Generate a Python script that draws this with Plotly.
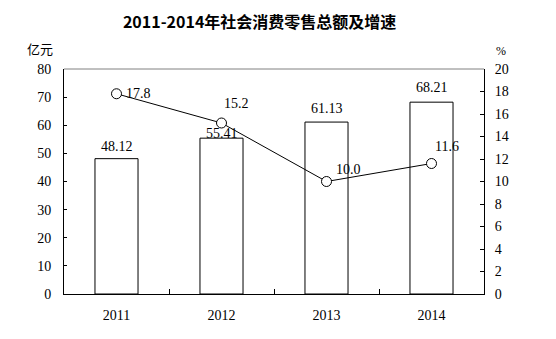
import plotly.graph_objects as go

# Retail sales of consumer goods, 2011-2014
years = ["2011", "2012", "2013", "2014"]
sales = [48.12, 55.41, 61.13, 68.21]          # 亿元
growth = [17.8, 15.2, 10.0, 11.6]             # %

sales_text = ["48.12", "55.41", "61.13", "68.21"]
growth_text = ["17.8", "15.2", "10.0", "11.6"]

num_font = "Liberation Serif"
cjk_font = "Noto Sans CJK SC"

fig = go.Figure()

fig.add_trace(go.Bar(
    x=years, y=sales, width=0.41,
    marker=dict(color="white", line=dict(color="black", width=1)),
    yaxis="y", showlegend=False, hoverinfo="skip",
))

fig.add_trace(go.Scatter(
    x=years, y=growth, yaxis="y2", mode="lines+markers",
    line=dict(color="black", width=1),
    marker=dict(symbol="circle", size=10, color="white",
                line=dict(color="black", width=1)),
    showlegend=False, hoverinfo="skip",
))

# bar value labels (category index used as x position)
bar_shift = [3, -5, 4, 5]
for i, (v, t, s) in enumerate(zip(sales, sales_text, bar_shift)):
    fig.add_annotation(x=i, y=v, xref="x", yref="y", text=t, showarrow=False,
                       yanchor="bottom", yshift=s,
                       font=dict(family=num_font, size=14, color="black"))

# growth rate labels
g_xshift = [7, 0, 7, 1]
g_yshift = [0, 10, 3, 8]
for i, (v, t, dx, dy) in enumerate(zip(growth, growth_text, g_xshift, g_yshift)):
    fig.add_annotation(x=i, y=v, xref="x", yref="y2", text=t, showarrow=False,
                       xanchor="left", yanchor="bottom" if dy > 2 else "middle",
                       xshift=dx, yshift=dy,
                       font=dict(family=num_font, size=14, color="black"))

# axis unit labels
fig.add_annotation(x=-0.058, y=1.04, xref="paper", yref="paper", text="亿元",
                   showarrow=False, xanchor="center", yanchor="bottom",
                   font=dict(family=cjk_font, size=13, color="black"))
fig.add_annotation(x=1.04, y=1.04, xref="paper", yref="paper", text="%",
                   showarrow=False, xanchor="center", yanchor="bottom",
                   font=dict(family=num_font, size=12, color="black"))

fig.update_layout(
    width=556, height=339,
    margin=dict(l=64, r=72, t=69, b=45),
    paper_bgcolor="white", plot_bgcolor="white",
    title=dict(text="<b>2011-2014年社会消费零售总额及增速</b>",
               x=0.467, xanchor="center", y=0.935, yanchor="middle",
               font=dict(family=cjk_font, size=16, color="black")),
    xaxis=dict(type="category", range=[-0.5, 3.5], showline=True,
               linecolor="black", linewidth=1,
               ticks="inside", tickson="boundaries", ticklen=5,
               tickcolor="black", showgrid=False, mirror=False,
               tickangle=0, ticklabelstandoff=8,
               tickfont=dict(family=num_font, size=14, color="black")),
    yaxis=dict(range=[0, 80], dtick=10, showline=True, linecolor="black",
               linewidth=1, ticks="inside", ticklen=3, tickcolor="black",
               showgrid=False, zeroline=False, ticklabelstandoff=9,
               tickfont=dict(family=num_font, size=14, color="black")),
    yaxis2=dict(range=[0, 20], dtick=2, overlaying="y", side="right",
                showline=True, linecolor="black", linewidth=1,
                ticks="inside", ticklen=4, tickcolor="black",
                showgrid=False, zeroline=False, ticklabelstandoff=7,
                tickfont=dict(family=num_font, size=14, color="black")),
    shapes=[dict(type="line", xref="paper", yref="paper", x0=0, x1=1,
                 y0=1, y1=1, line=dict(color="#808080", width=1))],
)

fig.write_html("out.html")
